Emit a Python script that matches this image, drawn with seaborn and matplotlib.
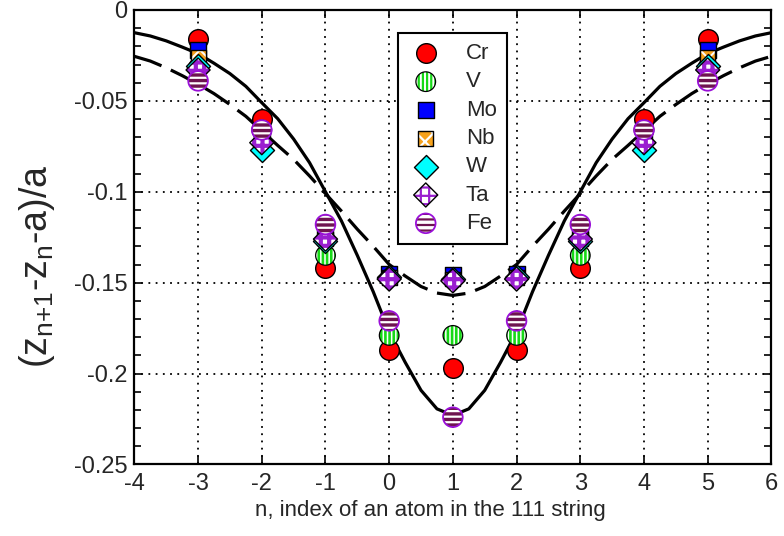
import numpy as np
import pandas as pd
import matplotlib
matplotlib.use("Agg")
import matplotlib.pyplot as plt
import seaborn as sns
from matplotlib.legend_handler import HandlerTuple
from matplotlib.ticker import MultipleLocator, FixedLocator, FixedFormatter

# ---------------- data ----------------
n_atoms = [-3, -2, -1, 0, 1, 2, 3, 4, 5]
cr = [-0.016, -0.060, -0.142, -0.187, -0.197, -0.187, -0.142, -0.060, -0.016]
v  = [-0.032, -0.066, -0.135, -0.179, -0.179, -0.179, -0.135, -0.066, -0.032]
mo = [-0.022, -0.070, -0.125, -0.145, -0.146, -0.145, -0.125, -0.070, -0.022]
nb = [-0.026, -0.071, -0.126, -0.147, -0.148, -0.147, -0.126, -0.071, -0.026]
w  = [-0.031, -0.077, -0.127, -0.147, -0.148, -0.147, -0.127, -0.077, -0.031]
ta = [-0.033, -0.073, -0.126, -0.148, -0.149, -0.148, -0.126, -0.073, -0.033]
fe = [-0.039, -0.066, -0.118, -0.171, -0.224, -0.171, -0.118, -0.066, -0.039]

curve_n = [-4.0, -3.75, -3.5, -3.25, -3.0, -2.75, -2.5, -2.25, -2.0, -1.75, -1.5,
           -1.25, -1.0, -0.75, -0.5, -0.25, 0.0, 0.25, 0.5, 0.75, 1.0, 1.25, 1.5,
           1.75, 2.0, 2.25, 2.5, 2.75, 3.0, 3.25, 3.5, 3.75, 4.0, 4.25, 4.5, 4.75,
           5.0, 5.25, 5.5, 5.75, 6.0]
solid_fit = [-0.0125, -0.0143, -0.0170, -0.0204, -0.0240, -0.0293, -0.0350, -0.0420,
             -0.0510, -0.0598, -0.0710, -0.0840, -0.1000, -0.1160, -0.1350, -0.1550,
             -0.1770, -0.1937, -0.2092, -0.2194, -0.2230, -0.2194, -0.2092, -0.1937,
             -0.1770, -0.1550, -0.1350, -0.1160, -0.1000, -0.0840, -0.0710, -0.0598,
             -0.0510, -0.0420, -0.0350, -0.0293, -0.0240, -0.0204, -0.0170, -0.0143,
             -0.0125]
dashed_fit = [-0.0255, -0.0281, -0.0318, -0.0361, -0.0408, -0.0460, -0.0520, -0.0585,
              -0.0665, -0.0745, -0.0822, -0.0913, -0.1010, -0.1106, -0.1206, -0.1300,
              -0.1400, -0.1463, -0.1521, -0.1557, -0.1570, -0.1557, -0.1521, -0.1463,
              -0.1400, -0.1300, -0.1206, -0.1106, -0.1010, -0.0913, -0.0822, -0.0745,
              -0.0665, -0.0585, -0.0520, -0.0460, -0.0408, -0.0361, -0.0318, -0.0281,
              -0.0255]

xticks = [-4, -3, -2, -1, 0, 1, 2, 3, 4, 5, 6]
xtick_labels = ["-4", "-3", "-2", "-1", "0", "1", "2", "3", "4", "5", "6"]
yticks = [0, -0.05, -0.1, -0.15, -0.2, -0.25]
ytick_labels = ["0", "-0.05", "-0.1", "-0.15", "-0.2", "-0.25"]

# ---------------- style ----------------
sns.set_style("ticks")
plt.rcParams["font.family"] = ["Liberation Sans", "DejaVu Sans"]
plt.rcParams["mathtext.fontset"] = "custom"
plt.rcParams["mathtext.rm"] = "Liberation Sans"
plt.rcParams["mathtext.it"] = "Liberation Sans"
plt.rcParams["axes.unicode_minus"] = False
plt.rcParams["hatch.linewidth"] = 1.6

fig = plt.figure(figsize=(7.84, 5.36), dpi=100)
ax = fig.add_axes([0.1714, 0.1334, 0.8125, 0.848])

curves = pd.DataFrame({"n": curve_n, "solid": solid_fit, "dashed": dashed_fit})
sns.lineplot(data=curves, x="n", y="solid", ax=ax, color="black", lw=2.3, zorder=3)
sns.lineplot(data=curves, x="n", y="dashed", ax=ax, color="black", lw=2.3,
             dashes=False, zorder=3)
ax.lines[-1].set_dashes([9, 3.2])
for ln in ax.lines:
    ln.set_solid_joinstyle("round")

pts = pd.DataFrame({"n": n_atoms, "Cr": cr, "V": v, "Mo": mo, "Nb": nb,
                    "W": w, "Ta": ta, "Fe": fe})


def layer(col, marker, s, face, edge, lw, hatch=None, hlw=1.6, z=5):
    with plt.rc_context({"hatch.linewidth": hlw}):
        sns.scatterplot(data=pts, x="n", y=col, ax=ax, marker=marker, s=s,
                        color=face, edgecolor=edge, linewidth=lw, hatch=hatch,
                        zorder=z, legend=False)
    return ax.collections[-1]


CS = 200
handles = []
labels = []
h = layer("Cr", "o", CS, "#ff0000", "black", 1.0)
handles.append(h); labels.append("Cr")
h1 = layer("V", "o", CS, "white", "#17d917", 0, hatch="||||", hlw=1.9)
h2 = layer("V", "o", CS, "none", "black", 0.9)
handles.append((h1, h2)); labels.append("V")
h = layer("Mo", "s", 125, "#0000ff", "black", 1.0)
handles.append(h); labels.append("Mo")
h1 = layer("Nb", "s", 115, "#f7a21b", "white", 0, hatch="xx", hlw=1.4)
h2 = layer("Nb", "s", 115, "none", "black", 1.0)
handles.append((h1, h2)); labels.append("Nb")
h = layer("W", "D", 150, "#00ffff", "black", 1.0)
handles.append(h); labels.append("W")
h1 = layer("Ta", "D", 150, "white", "#9a1fd0", 0, hatch="++", hlw=3.0)
h2 = layer("Ta", "D", 150, "none", "black", 1.0)
handles.append((h1, h2)); labels.append("Ta")
h1 = layer("Fe", "o", CS, "white", "#6e1450", 0, hatch="---", hlw=2.4)
h2 = layer("Fe", "o", CS, "none", "#9a10d8", 1.3)
handles.append((h1, h2)); labels.append("Fe")

# ---------------- axes ----------------
ax.set_xlim(-4, 6)
ax.set_ylim(-0.25, 0)
ax.xaxis.set_major_locator(FixedLocator(xticks))
ax.xaxis.set_major_formatter(FixedFormatter(xtick_labels))
ax.yaxis.set_major_locator(FixedLocator(yticks))
ax.yaxis.set_major_formatter(FixedFormatter(ytick_labels))
ax.yaxis.set_minor_locator(MultipleLocator(0.01))
ax.tick_params(which="both", direction="in", top=True, right=True,
               color="black", width=1.2)
ax.tick_params(which="major", length=6, labelsize=17, pad=6)
ax.tick_params(which="minor", length=5)
ax.tick_params(axis="y", which="major", pad=5)
ax.grid(True, which="major", color="black", linestyle=(0, (1, 3)), linewidth=1.3)
for sp in ax.spines.values():
    sp.set_linewidth(1.6)
    sp.set_color("black")

ax.set_xlabel("n, index of an atom in the 111 string", fontsize=16)
ax.xaxis.set_label_coords(0.464, -0.079)
ax.set_ylabel("(z$_{\\text{n+1}}$-z$_{\\text{n}}$-a)/a", fontsize=27)
ax.yaxis.set_label_coords(-0.122, 0.437)

leg = ax.legend(handles=handles, labels=labels,
                handler_map={tuple: HandlerTuple(ndivide=1, pad=0)},
                loc="upper left", bbox_to_anchor=(0.4138, 0.949),
                borderaxespad=0, fontsize=16, frameon=True, fancybox=False,
                edgecolor="black", framealpha=1, borderpad=0.45,
                labelspacing=0.33, handlelength=1.6, handletextpad=1.0)
leg.get_frame().set_linewidth(1.5)
leg.set_zorder(10)

fig.savefig("out.png", dpi=100)
